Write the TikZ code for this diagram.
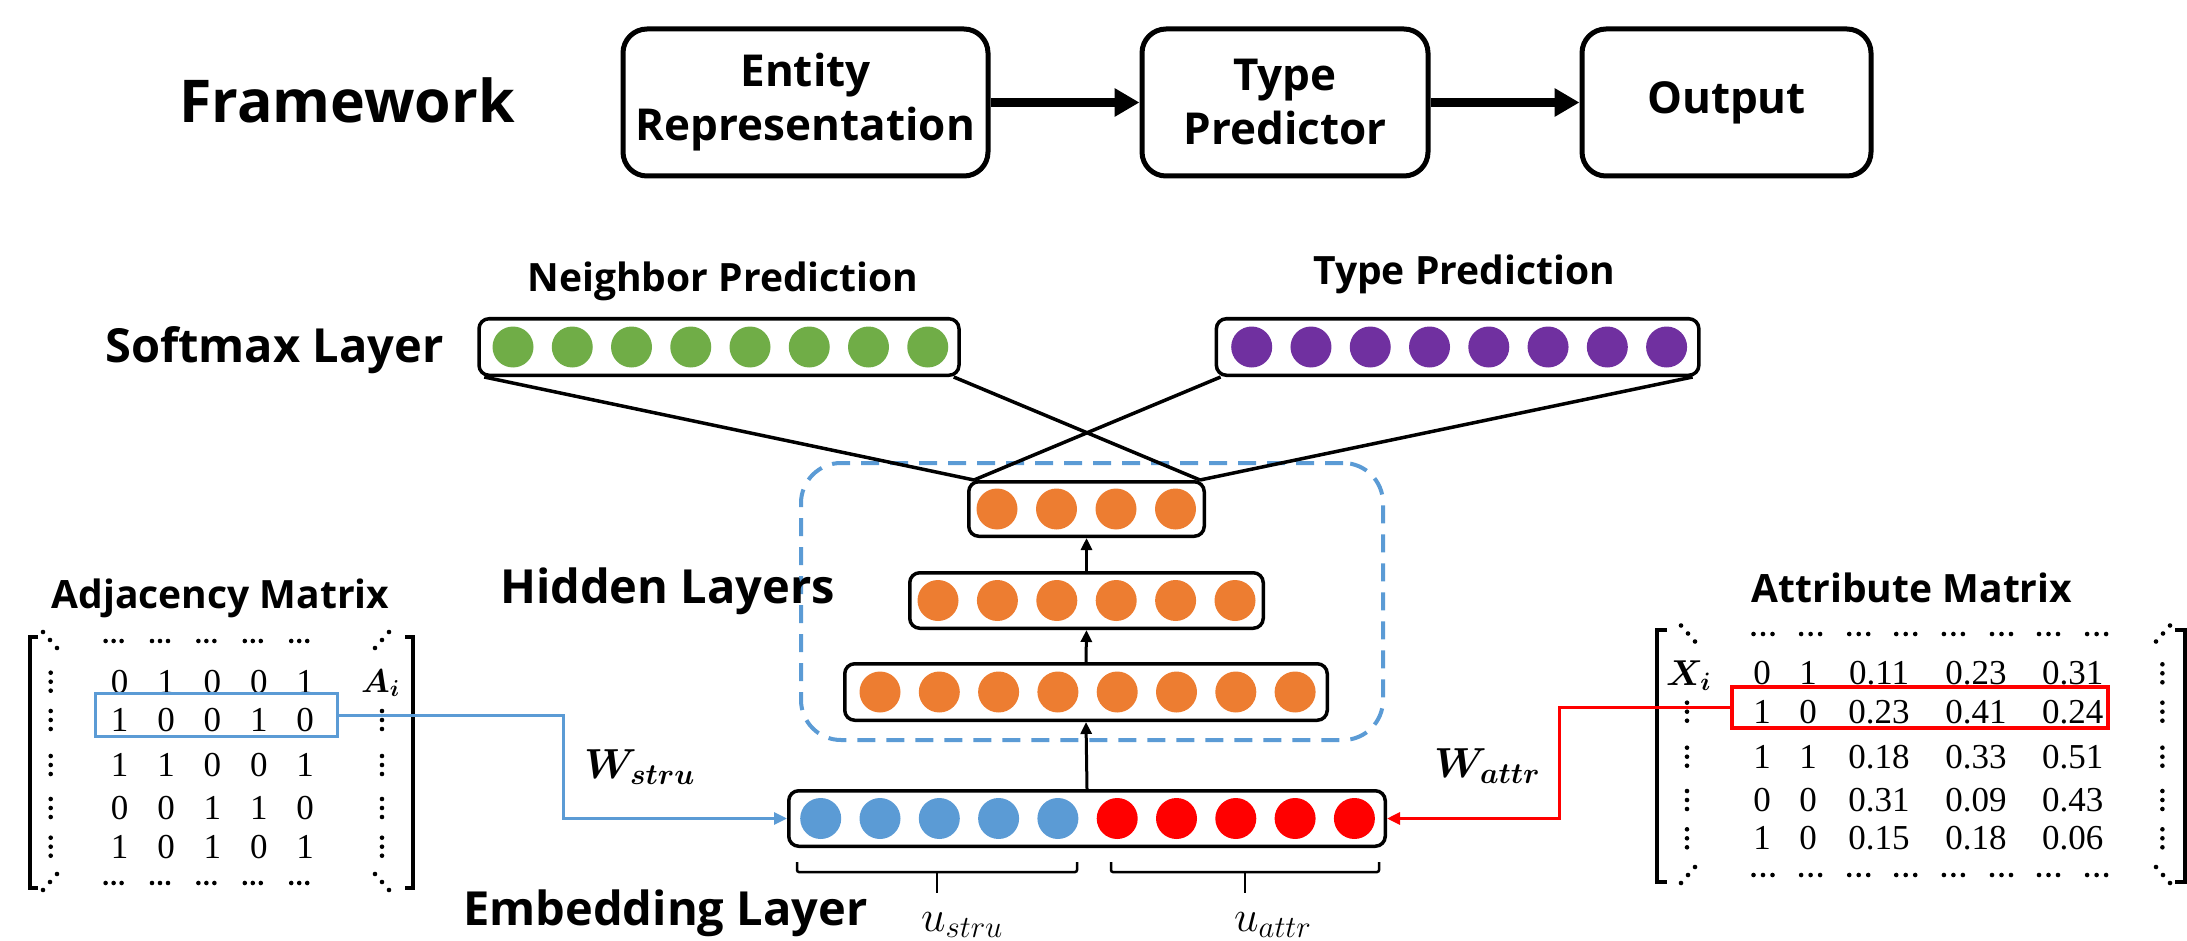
\RequirePackage{fix-cm}
\documentclass[tikz,border=0pt]{standalone}
\usepackage{fontspec}
\setsansfont{Open Sans}
\newfontfamily\numfont{Liberation Serif}
\usepackage{amsmath,bm}
\usetikzlibrary{arrows.meta,calc}
\definecolor{cgreen}{HTML}{70AD47}
\definecolor{cpurple}{HTML}{7030A0}
\definecolor{corange}{HTML}{ED7D31}
\definecolor{cblue}{HTML}{5B9BD5}
\definecolor{cred}{HTML}{FF0000}
\newcommand\hdotsat[3]{\foreach \k in {-1,0,1}{\fill ({#1+\k*#3},#2) circle (2.3pt);}}
\newcommand\vdotsat[2]{\foreach \k in {-1,0,1}{\fill (#1,{#2+\k*9}) circle (2.3pt);}}
\newcommand\ddotsat[3]{\foreach \k in {-1,0,1}{\fill ({#1+\k*7},{#2+\k*8*#3}) circle (2.3pt);}}
\tikzset{
  lbl/.style={inner sep=0pt, font=\sffamily\bfseries\fontsize{47}{56}\selectfont},
  smalllbl/.style={inner sep=0pt, font=\sffamily\bfseries\fontsize{39}{46}\selectfont},
  fwbox/.style={draw, line width=5pt, rounded corners=24pt, align=center, inner sep=0pt,
    font=\sffamily\bfseries\fontsize{44}{54}\selectfont},
  fwarrow/.style={line width=9pt, -{Triangle[length=25pt,width=27pt]}},
  layerbox/.style={draw, line width=3.5pt, rounded corners=10pt, inner sep=0pt},
  unit/.style={circle, minimum size=41pt, inner sep=0pt},
  conn/.style={line width=3.5pt},
  varrow/.style={line width=3pt, -{Triangle[length=12pt,width=11pt]}},
  brace/.style={line width=2.5pt, rounded corners=2pt},
  num/.style={inner sep=0pt, font=\numfont\fontsize{35}{40}\selectfont},
  bracket/.style={line width=4pt},
  blueconn/.style={draw=cblue, line width=3pt, -{Triangle[length=13pt,width=12pt]}},
  redconn/.style={draw=cred, line width=3pt, -{Triangle[length=13pt,width=12pt]}},
  mathlbl/.style={inner sep=0pt, font=\fontsize{42}{50}\selectfont},
}
\begin{document}
\begin{tikzpicture}[x=1pt,y=-1pt]
\useasboundingbox (0,0) rectangle (2187,941);

% ---------- Framework ----------
\node[inner sep=0pt, anchor=base, font=\sffamily\bfseries\fontsize{59}{70}\selectfont] (fw) at (347,123) {Framework};
\node[fwbox, minimum width=365pt, minimum height=147pt] (er) at (805.5,102.5) {Entity\\Representation};
\node[fwbox, minimum width=286pt, minimum height=147pt] (tpd) at (1285,102.5) {Type\\Predictor};
\node[fwbox, minimum width=289pt, minimum height=147pt] (out) at (1726.5,102.5) {Output};
\draw[fwarrow] (er.east) -- (tpd.west);
\draw[fwarrow] (tpd.east) -- (out.west);

% ---------- Softmax layer ----------
\node[lbl, anchor=base west] (sm) at (105,362) {Softmax Layer};
\node[smalllbl, anchor=base] (nbl) at (723,292) {Neighbor Prediction};
\node[smalllbl, anchor=base] (tpl) at (1464,285) {Type Prediction};

% hidden dashed region
\node[draw=cblue, line width=4pt, dash pattern=on 18pt off 11pt, rounded corners=40pt,
      minimum width=582pt, minimum height=277pt, inner sep=0pt] (hid) at (1092,601.5) {};

\node[layerbox, minimum width=480pt, minimum height=56.5pt] (nb) at (719,347) {};
\node[layerbox, minimum width=482.5pt, minimum height=56.5pt] (tp) at (1457.6,347) {};
\foreach \i in {0,...,7} \node[unit, fill=cgreen] (ng\i) at ({513+59.25*\i},347) {};
\foreach \i in {0,...,7} \node[unit, fill=cpurple] (pu\i) at ({1251.7+59.27*\i},347) {};

% hidden layers
\node[layerbox, minimum width=235.5pt, minimum height=54.5pt] (h3) at (1086.5,509) {};
\node[layerbox, minimum width=353.5pt, minimum height=55.5pt] (h2) at (1086.5,600.5) {};
\node[layerbox, minimum width=482.5pt, minimum height=56.5pt] (h1) at (1086,692) {};
\foreach \i in {0,...,3} \node[unit, fill=corange] (ha\i) at ({997+59.5*\i},509) {};
\foreach \i in {0,...,5} \node[unit, fill=corange] (hb\i) at ({938+59.4*\i},600.5) {};
\foreach \i in {0,...,7} \node[unit, fill=corange] (hc\i) at ({880+59.3*\i},692) {};
\node[lbl, anchor=base west] (hl) at (500,603) {Hidden Layers};

% connections softmax -> top hidden layer
\draw[conn] ([xshift=7pt]nb.south west) -- ([xshift=7pt]h3.north west);
\draw[conn] ([xshift=-7pt]nb.south east) -- ([xshift=-6pt]h3.north east);
\draw[conn] ([xshift=6pt]tp.south west) -- ([xshift=7pt]h3.north west);
\draw[conn] ([xshift=-8pt]tp.south east) -- ([xshift=-6pt]h3.north east);

% embedding layer
\node[layerbox, minimum width=596.5pt, minimum height=55.5pt] (emb) at (1087,818.5) {};
\foreach \i in {0,...,4} \node[unit, fill=cblue] (eb\i) at ({820.7+59.3*\i},818.5) {};
\foreach \i in {5,...,9} \node[unit, fill=cred] (er\i) at ({820.7+59.3*\i},818.5) {};
\node[lbl, anchor=base west] (el) at (463,925) {Embedding Layer};

\draw[varrow] (emb.north) -- (h1.south);
\draw[varrow] (h1.north) -- (h2.south);
\draw[varrow] (h2.north) -- (h3.south);

% braces
\draw[brace] (797,862) -- (797,872) -- (1077,872) -- (1077,862);
\draw[brace] (937,872) -- (937,893);
\draw[brace] (1111,862) -- (1111,872) -- (1379,872) -- (1379,862);
\draw[brace] (1245,872) -- (1245,893);
\node[inner sep=0pt, anchor=base west, font=\fontsize{44}{52}\selectfont] (us) at (921,931) {$u_{stru}$};
\node[inner sep=0pt, anchor=base west, font=\fontsize{44}{52}\selectfont] (ua) at (1234,931) {$u_{attr}$};

% ---------- Adjacency matrix ----------
\node[smalllbl, anchor=base] (adjt) at (220.5,608) {Adjacency Matrix};
\draw[bracket] (38,637) -- (30,637) -- (30,888) -- (38,888);
\draw[bracket] (405,637) -- (413,637) -- (413,888) -- (405,888);
\foreach \x in {119.6,166,212.4,258.8,305.2}{
  \hdotsat{\x-6}{641}{8}
  \hdotsat{\x-6}{883}{8}
}
\foreach \y/\a/\b/\cc/\d/\e [count=\r] in {681.7/0/1/0/0/1, 720/1/0/0/1/0, 765/1/1/0/0/1, 808/0/0/1/1/0, 846.7/1/0/1/0/1}{
  \node[num] (a\r-1) at (119.6,\y) {\a};
  \node[num] (a\r-2) at (166,\y) {\b};
  \node[num] (a\r-3) at (212.4,\y) {\cc};
  \node[num] (a\r-4) at (258.8,\y) {\d};
  \node[num] (a\r-5) at (305.2,\y) {\e};
  \vdotsat{50.7}{\y}
}
\foreach \y in {720,765,808,846.7} {\vdotsat{382}{\y}}
\ddotsat{50}{640}{1}
\ddotsat{382}{640}{-1}
\ddotsat{50}{882}{-1}
\ddotsat{382}{882}{1}
\node[inner sep=0pt, anchor=base west, font=\fontsize{33}{40}\selectfont] (ai) at (361,692) {$\bm{A_i}$};
\node[draw=cblue, line width=3.3pt, minimum width=242pt, minimum height=43pt, inner sep=0pt] (brow) at (216.25,715) {};

% ---------- Attribute matrix ----------
\node[smalllbl, anchor=base] (attt) at (1912,602) {Attribute Matrix};
\draw[bracket] (1667,630) -- (1657,630) -- (1657,882) -- (1667,882);
\draw[bracket] (2175,630) -- (2184.5,630) -- (2184.5,882) -- (2175,882);
\foreach \x in {1763,1810.6,1858.7,1905.7,1953.4,2001.5,2048.5,2096.6}{
  \hdotsat{\x}{634}{9.5}
  \hdotsat{\x}{875}{9.5}
}
\foreach \y/\a/\b/\cc/\d/\e [count=\r] in {673.3/0/1/0.11/0.23/0.31, 711.7/1/0/0.23/0.41/0.24, 756.7/1/1/0.18/0.33/0.51, 800/0/0/0.31/0.09/0.43, 838.3/1/0/0.15/0.18/0.06}{
  \node[num] (x\r-1) at (1762,\y) {\a};
  \node[num] (x\r-2) at (1808,\y) {\b};
  \node[num] (x\r-3) at (1879,\y) {\cc};
  \node[num] (x\r-4) at (1976,\y) {\d};
  \node[num] (x\r-5) at (2072.7,\y) {\e};
  \vdotsat{2162.4}{\y}
}
\foreach \y in {711.7,756.7,800,838.3} {\vdotsat{1687}{\y}}
\ddotsat{1688}{633.5}{1}
\ddotsat{2163}{633.5}{-1}
\ddotsat{1688}{875}{-1}
\ddotsat{2163}{875}{1}
\node[inner sep=0pt, anchor=base west, font=\fontsize{36}{42}\selectfont] (xi) at (1666,685) {$\bm{X_i}$};
\node[draw=cred, line width=4pt, minimum width=376pt, minimum height=41pt, inner sep=0pt] (rrow) at (1920,707.5) {};

% ---------- projections ----------
\coordinate (b1) at (563,715);
\coordinate (r1) at (1559,707.5);
\draw[blueconn] (brow.east) -- (b1) |- (emb.west);
\draw[redconn] (rrow.west) -- (r1) |- (emb.east);
\node[mathlbl, anchor=base west] (ws) at (584,778) {$\bm{W_{stru}}$};
\node[mathlbl, anchor=base west] (wa) at (1434,777) {$\bm{W_{attr}}$};
\end{tikzpicture}
\end{document}
